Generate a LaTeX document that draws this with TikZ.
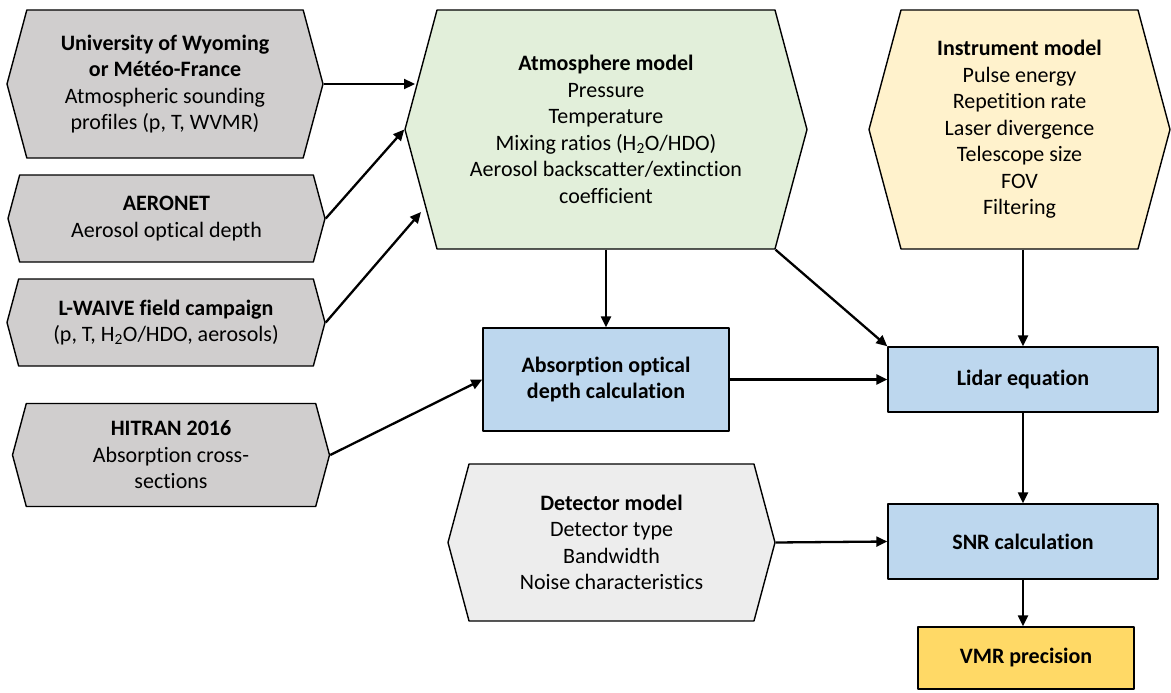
\documentclass[tikz,border=0pt]{standalone}
\usepackage{fontspec}
\setmainfont{Carlito}[Ligatures=NoCommon]
\usetikzlibrary{shapes.symbols,arrows.meta}
\definecolor{srcgray}{HTML}{D0CECE}
\definecolor{atmgreen}{HTML}{E2EFDA}
\definecolor{instryellow}{HTML}{FFF2CC}
\definecolor{detgray}{HTML}{EDEDED}
\definecolor{calcblue}{HTML}{BDD7EE}
\definecolor{vmrgold}{HTML}{FFD966}
\begin{document}
\begin{tikzpicture}[x=1pt,y=-1pt,line join=round,>={Triangle[length=11pt,width=10pt]},font=\fontsize{22}{26.5}\selectfont]
			\tikzset{hexbox/.style={shape=signal,signal to=east and west,signal pointer angle=150,draw,line width=1.4pt,inner sep=0pt,align=center},
				calcbox/.style={rectangle,draw,line width=1.4pt,fill=calcblue,inner sep=0pt,align=center},
				link/.style={->,line width=2.3pt}}
			\useasboundingbox (0,0) rectangle (1171,693);
			% inputs on the left
			\node[hexbox,fill=srcgray,minimum width=316pt,minimum height=148pt] (wyoming) at (165,84) {\textbf{University of Wyoming}\\\textbf{or Météo-France}\\Atmospheric sounding\\profiles (p, T, WVMR)};
			\node[hexbox,fill=srcgray,minimum width=317pt,minimum height=87pt] (aeronet) at (166.5,218.5) {\textbf{AERONET}\\Aerosol optical depth};
			\node[hexbox,fill=srcgray,minimum width=318pt,minimum height=87pt] (lwaive) at (166,322.5) {\textbf{L-WAIVE field campaign}\\(p, T, H\textsubscript{2}O/HDO, aerosols)};
			\node[hexbox,fill=srcgray,minimum width=317pt,minimum height=103pt] (hitran) at (171,455) {\textbf{HITRAN 2016}\\Absorption cross-\\sections};
			% models
			\node[hexbox,fill=atmgreen,minimum width=402pt,minimum height=239pt] (atmo) at (606,129.5) {\textbf{Atmosphere model}\\Pressure\\Temperature\\Mixing ratios (H\textsubscript{2}O/HDO)\\Aerosol backscatter/extinction\\coefficient};
			\node[hexbox,fill=instryellow,minimum width=301pt,minimum height=239pt] (instr) at (1019.5,129.5) {\textbf{Instrument model}\\Pulse energy\\Repetition rate\\Laser divergence\\Telescope size\\FOV\\Filtering};
			\node[hexbox,fill=detgray,minimum width=327pt,minimum height=157pt] (detector) at (611.5,542.5) {\textbf{Detector model}\\Detector type\\Bandwidth\\Noise characteristics};
			% calculations
			\node[calcbox,minimum width=246pt,minimum height=103pt] (absorb) at (606,379.5) {\textbf{Absorption optical}\\\textbf{depth calculation}};
			\node[calcbox,minimum width=270pt,minimum height=65pt] (lidar) at (1023,379.5) {\textbf{Lidar equation}};
			\node[calcbox,minimum width=270pt,minimum height=75pt] (snr) at (1023,541.5) {\textbf{SNR calculation}};
			\node[rectangle,draw,line width=1.4pt,fill=vmrgold,minimum width=216pt,minimum height=62pt] (vmr) at (1026,658) {\textbf{VMR precision}};
			% connectors
			\draw[link] (wyoming.east) -- (wyoming.east -| 415,0);
			\draw[link] (aeronet.east) -- (atmo.west);
			\draw[link] (lwaive.east) -- (421,212);
			\draw[link] (hitran.east) -- (absorb.west);
			\draw[link] (atmo.south) -- (absorb.north);
			\draw[link] (atmo.south east) -- (lidar.north west);
			\draw[link] (absorb.east) -- (lidar.west);
			\draw[link] (lidar.north |- instr.south) -- (lidar.north);
			\draw[link] (lidar.south) -- (snr.north);
			\draw[link] (detector.east) -- (snr.west);
			\draw[link] (snr.south) -- (snr.south |- vmr.north);
\end{tikzpicture}
\end{document}
